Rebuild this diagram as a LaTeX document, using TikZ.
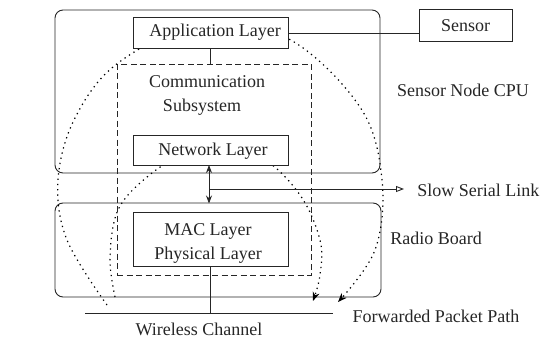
\documentclass[tikz,border=0pt]{standalone}
\usepackage{fontspec}
\setmainfont{Liberation Serif}
\usetikzlibrary{arrows.meta}
\begin{document}
\begin{tikzpicture}[x=1pt,y=-1pt,line width=0.9pt,
  ink/.style={draw=black!85},
  lbl/.style={font=\fontsize{18}{24}\selectfont,text=black!85,inner sep=0pt},
  layerbox/.style={ink,fill=white,rectangle,minimum width=155pt,inner sep=0pt},
  board/.style={ink,rounded corners=8pt,rectangle,inner sep=0pt},
  dotarc/.style={draw=black,line width=1.2pt,dash pattern=on 1.3pt off 4pt,
    -{Stealth[length=9pt,width=7pt]}},
  fulltip/.style={{Stealth[length=8pt,width=6pt]}-{Stealth[length=8pt,width=6pt]}},
  opentip/.style={-{Triangle[open,length=8pt,width=6pt]}}]
\useasboundingbox (0,0) rectangle (547,340);
% boards
\node[board,minimum width=325pt,minimum height=163pt] (cpu) at (217.5,91.5) {};
\node[board,minimum width=326pt,minimum height=94pt] (radio) at (218,250) {};
% dashed subsystem
\node[ink,dashed,dash pattern=on 6pt off 3.5pt,rectangle,minimum width=194pt,minimum height=211pt,inner sep=0pt] (sub) at (214,169.5) {};
% dotted forwarded paths
\draw[dotarc] plot[smooth,tension=0.6] coordinates {(107,305) (67,240) (58,180) (75,118) (118,63) (200,25) (287,38) (360,107) (382,180) (375,250) (338,302)};
\draw[dotarc] plot[smooth,tension=0.6] coordinates {(115,297) (110,258) (118,210) (147,177) (185,153) (215,148) (262,158) (300,195) (320,240) (320,275) (313,301)};
% layer boxes
\node[layerbox,minimum height=31pt] (app) at (210.5,32.5) {};
\node[lbl] at (215,32.5) {Application Layer};
\node[layerbox,minimum height=30pt] (net) at (210.5,150) {};
\node[lbl] at (213,151) {Network Layer};
\node[layerbox,minimum height=54pt,align=center] (mac) at (210.5,239) {};
\node[lbl,align=center] at (208,243) {MAC Layer\\Physical Layer};
\node[ink,rectangle,minimum width=93pt,minimum height=32pt,inner sep=0pt] (sensor) at (465.5,25) {};
\node[lbl] at (465.5,26) {Sensor};
% labels
\node[lbl] (comm) at (207,82) {Communication};
\node[lbl] (subs) at (202,107) {Subsystem};
\node[lbl] (cpulbl) at (463,90) {Sensor Node CPU};
\node[lbl] (radiolbl) at (436,238) {Radio Board};
\node[lbl,anchor=west] (ssl) at (417,190) {Slow Serial Link};
\node[lbl] (fpp) at (436,316) {Forwarded Packet Path};
\node[lbl] (wl) at (199,329) {Wireless Channel};
% connectors
\draw[ink] (app.east |- 0,33) -- (sensor.west |- 0,33);
\draw[ink] (app.south) -- (app.south |- sub.north);
\coordinate (nb) at (209,165);
\coordinate (rt) at (209,203.5);
\draw[ink,fulltip] (nb) -- (rt);
\coordinate (sj) at (209,189);
\coordinate (se) at (404,189);
\draw[ink,opentip] (sj) -- (se);
\coordinate (wa) at (85,313);
\coordinate (wb) at (333,313);
\draw[ink] (wa) -- (wb);
\draw[ink] (mac.south) -- (mac.south |- wa);
\end{tikzpicture}
\end{document}
